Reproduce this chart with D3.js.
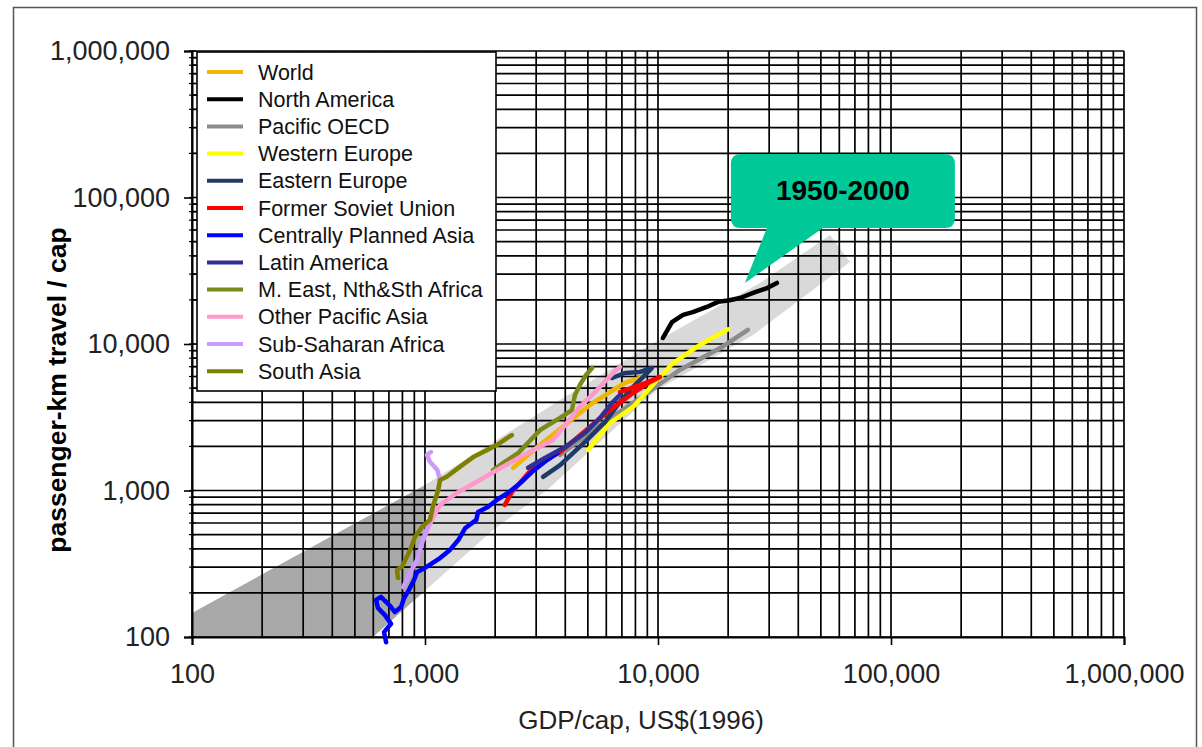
<!DOCTYPE html>
<html>
<head>
<meta charset="utf-8">
<script src="https://cdn.jsdelivr.net/npm/d3@7"></script>
<style>
  body { margin: 0; background: #fff; }
  svg { display: block; font-family: "Liberation Sans", Arial, sans-serif; }
</style>
</head>
<body>
<svg width="1202" height="747"></svg>
<script>
// tick values and labels
const tickValues = [100, 1000, 10000, 100000, 1000000];

// series: [GDP/cap, pkm/cap]
const seriesNames = ["World", "North America", "Pacific OECD", "Western Europe", "Eastern Europe",
    "Former Soviet Union", "Centrally Planned Asia", "Latin America", "M. East, Nth&Sth Africa",
    "Other Pacific Asia", "Sub-Saharan Africa", "South Asia"];
const seriesColors = ["#f2b600", "#000000", "#8c8c8c", "#ffff00", "#1f3a68",
    "#ff0000", "#0000ff", "#2e3192", "#7a8a1a", "#ff99cc", "#cc99ff", "#808000"];

const world = [[2390, 1430], [3120, 2050], [3990, 2800], [5100, 3840], [6220, 4700], [7210, 5420], [8370, 5860]];
const northAmerica = [[10500, 11000], [11480, 14100], [12800, 15800], [14100, 16500], [16200, 17900],
    [18100, 19400], [20000, 19800], [22500, 20600], [25600, 22300], [29400, 24100], [32400, 26100]];
const pacificOECD = [[3800, 1750], [5640, 2800], [8370, 4280], [12400, 6650], [18500, 9390], [24300, 12500]];
const westernEurope = [[5010, 1890], [6220, 2890], [7820, 3720], [9910, 5680], [11600, 7410], [15100, 9840], [20000, 12600]];
const easternEurope = [[3210, 1240], [3800, 1490], [4950, 2210], [5930, 2940], [6870, 4020], [7730, 5010],
    [8790, 6140], [9420, 6860], [8370, 6440], [7210, 6340], [6350, 5860]];
const formerSovietUnion = [[2200, 796], [2360, 977], [2910, 1430], [3800, 1830], [5100, 2710], [6220, 3540],
    [7820, 4630], [9250, 5510], [10200, 5950], [8370, 5250], [6870, 4700]];
const centrallyPlannedAsia = [[681, 92], [667, 108], [715, 123], [673, 141], [628, 158], [617, 179], [647, 188],
    [708, 163], [743, 148], [789, 160], [813, 184], [853, 209], [897, 245], [925, 278], [1000, 296], [1160, 346],
    [1280, 393], [1390, 459], [1490, 555], [1660, 630], [1690, 713], [1860, 771], [2060, 875], [2270, 962],
    [2560, 1120], [2910, 1360], [3300, 1590], [3690, 1800]];
const latinAmerica = [[2770, 1430], [3270, 1670], [3990, 1980], [4860, 2470], [5640, 3130], [6350, 3960], [6870, 4490]];
const middleEastAfrica = [[1960, 1380], [2200, 1570], [2510, 1800], [3120, 2590], [3800, 3130], [4270, 3540],
    [4400, 4490], [4620, 5250], [4910, 6140], [5210, 6860]];
const otherPacificAsia = [[980, 459], [1070, 630], [1160, 796], [1370, 962], [1720, 1180], [2040, 1380],
    [2560, 1690], [3540, 2210], [4620, 3720], [5470, 4850], [6410, 6340], [6870, 6970]];
const subSaharanAfrica = [[805, 219], [863, 274], [925, 336], [980, 459], [1050, 630], [1080, 771], [1130, 962],
    [1160, 1180], [1130, 1380], [1050, 1570], [1020, 1750], [1060, 1830]];
const southAsia = [[766, 253], [758, 287], [796, 301], [863, 393], [906, 482], [971, 564], [1050, 630], [1080, 771],
    [1140, 1010], [1160, 1180], [1240, 1240], [1410, 1450], [1610, 1690], [1850, 1890], [2040, 2050], [2250, 2280], [2360, 2390]];

// grey band 1950-2000
const bandUpper = [[100, 146], [1000, 1091], [3796, 4150], [9245, 9840], [27400, 26060], [54700, 55460]];
const bandLower = [[100, 20], [432, 62], [598, 100], [1959, 537], [3340, 1007], [9900, 4853], [25580, 11510], [66700, 36300]];

const calloutTip = [23600, 26100];
const calloutText = "1950-2000";

const seriesData = [world, northAmerica, pacificOECD, westernEurope, easternEurope, formerSovietUnion,
    centrallyPlannedAsia, latinAmerica, middleEastAfrica, otherPacificAsia, subSaharanAfrica, southAsia];

const svg = d3.select("svg");
const plotLeft = 192, plotRight = 1124, plotTop = 51, plotBottom = 637;

const x = d3.scaleLog().domain([100, 1000000]).range([plotLeft, plotRight]);
const y = d3.scaleLog().domain([100, 1000000]).range([plotBottom, plotTop]);
const fmt = d3.format(",");

// outer frame
svg.append("rect")
    .attr("x", 13.5).attr("y", 7.5).attr("width", 1183).attr("height", 760)
    .attr("fill", "none").attr("stroke", "#555").attr("stroke-width", 1.5);

// clip for plot area, split at 1,000 where the band turns lighter
const defs = svg.append("defs");
defs.append("clipPath").attr("id", "clipDark").append("rect")
    .attr("x", plotLeft).attr("y", plotTop).attr("width", x(1000) - plotLeft).attr("height", plotBottom - plotTop);
defs.append("clipPath").attr("id", "clipLight").append("rect")
    .attr("x", x(1000)).attr("y", plotTop).attr("width", plotRight - x(1000)).attr("height", plotBottom - plotTop);

const bandPoly = bandUpper.concat(bandLower.slice().reverse());
const bandPath = d3.line().x(d => x(d[0])).y(d => y(d[1]));
svg.append("path")
    .attr("d", bandPath(bandPoly) + "Z")
    .attr("fill", "#a9a9a9")
    .attr("clip-path", "url(#clipDark)");
svg.append("path")
    .attr("d", bandPath(bandPoly) + "Z")
    .attr("fill", "#d9d9d9")
    .attr("clip-path", "url(#clipLight)");

// grid lines at every minor tick
const gridVals = [];
for (let d = 100; d < 1000000; d *= 10) {
    for (let k = 1; k <= 9; k++) gridVals.push(d * k);
}
gridVals.push(1000000);

const grid = svg.append("g").attr("stroke", "#000").attr("stroke-width", 1.7);
grid.selectAll("line.v").data(gridVals).enter().append("line")
    .attr("class", "v")
    .attr("x1", d => x(d)).attr("x2", d => x(d))
    .attr("y1", plotTop).attr("y2", plotBottom);
grid.selectAll("line.h").data(gridVals).enter().append("line")
    .attr("class", "h")
    .attr("y1", d => y(d)).attr("y2", d => y(d))
    .attr("x1", plotLeft).attr("x2", plotRight);

// axes
const xAxis = d3.axisBottom(x).tickValues(tickValues).tickFormat(fmt).tickSize(8).tickPadding(14);
const yAxis = d3.axisLeft(y).tickValues(tickValues).tickFormat(fmt).tickSize(8).tickPadding(14);

const gx = svg.append("g").attr("transform", `translate(0,${plotBottom})`).call(xAxis);
const gy = svg.append("g").attr("transform", `translate(${plotLeft},0)`).call(yAxis);
[gx, gy].forEach(g => {
    g.select(".domain").attr("stroke", "#000").attr("stroke-width", 2);
    g.selectAll(".tick line").attr("stroke", "#000").attr("stroke-width", 1.6);
    g.selectAll(".tick text")
        .attr("font-family", "Liberation Sans, Arial, sans-serif")
        .attr("font-size", 27).attr("fill", "#222");
});
gx.selectAll(".tick text").attr("dy", "0.88em");

// minor ticks crossing the y axis
gy.selectAll("line.minor").data(gridVals).enter().append("line")
    .attr("class", "minor")
    .attr("x1", -3).attr("x2", 4)
    .attr("y1", d => y(d)).attr("y2", d => y(d))
    .attr("stroke", "#000").attr("stroke-width", 1.2);

// axis titles
svg.append("text")
    .attr("x", 641).attr("y", 729)
    .attr("text-anchor", "middle")
    .attr("font-size", 26).attr("fill", "#222")
    .text("GDP/cap, US$(1996)");
svg.append("text")
    .attr("transform", "translate(66,390) rotate(-90)")
    .attr("text-anchor", "middle")
    .attr("font-size", 26.5).attr("font-weight", "bold").attr("fill", "#000")
    .text("passenger-km travel / cap");

// series lines
const line = d3.line().x(d => x(d[0])).y(d => y(d[1])).curve(d3.curveLinear);
svg.append("g").selectAll("path").data(seriesData).enter().append("path")
    .attr("d", line)
    .attr("fill", "none")
    .attr("stroke", (d, i) => seriesColors[i])
    .attr("stroke-width", 4.5)
    .attr("stroke-linejoin", "round")
    .attr("stroke-linecap", "round");

// legend
const legend = svg.append("g");
legend.append("rect")
    .attr("x", 197).attr("y", 52).attr("width", 299).attr("height", 339)
    .attr("fill", "#fff").attr("stroke", "#000").attr("stroke-width", 1.6);
const items = legend.selectAll("g.item").data(seriesNames).enter().append("g")
    .attr("class", "item")
    .attr("transform", (d, i) => `translate(0,${72 + i * 27.2})`);
items.append("line")
    .attr("x1", 207).attr("x2", 243)
    .attr("stroke", (d, i) => seriesColors[i])
    .attr("stroke-width", 4);
items.append("text")
    .attr("x", 258).attr("dy", "0.35em")
    .attr("font-size", 21.5).attr("fill", "#111")
    .text(d => d);

// callout
const tx = x(calloutTip[0]), ty = y(calloutTip[1]);
const bx = tx - 14, by = ty - 129, bw = 224, bh = 74, r = 10;
const callout = svg.append("g");
callout.append("path")
    .attr("d", `M${bx + r},${by} H${bx + bw - r} Q${bx + bw},${by} ${bx + bw},${by + r}
        V${by + bh - r} Q${bx + bw},${by + bh} ${bx + bw - r},${by + bh}
        H${tx + 78} L${tx},${ty} L${tx + 22},${by + bh}
        H${bx + r} Q${bx},${by + bh} ${bx},${by + bh - r}
        V${by + r} Q${bx},${by} ${bx + r},${by} Z`)
    .attr("fill", "#00c896");
callout.append("text")
    .attr("x", bx + bw / 2).attr("y", by + 36)
    .attr("dy", "0.35em")
    .attr("text-anchor", "middle")
    .attr("font-size", 28).attr("font-weight", "bold").attr("fill", "#000")
    .text(calloutText);
</script>
</body>
</html>
